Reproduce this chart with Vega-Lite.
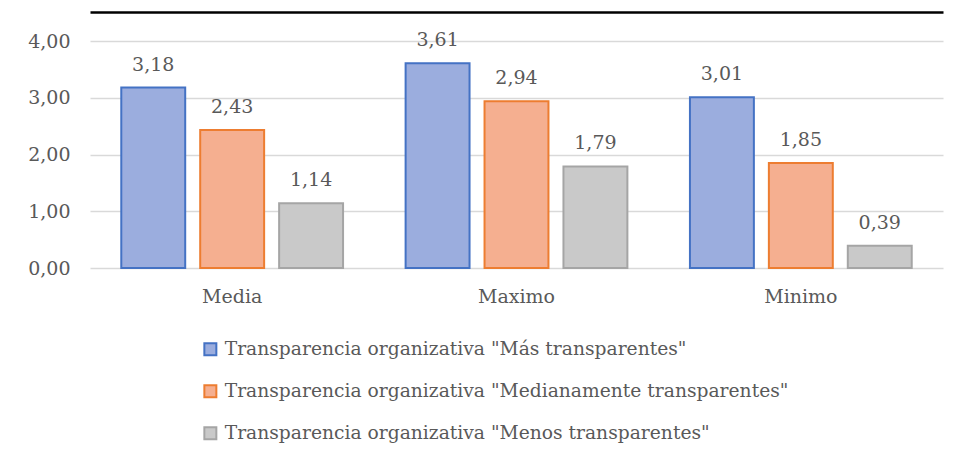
{
  "$schema": "https://vega.github.io/schema/vega-lite/v6.json",
  "autosize": "none",
  "width": 853,
  "height": 227,
  "padding": {"left": 90, "top": 41, "right": 16, "bottom": 191},
  "background": "white",
  "config": {
    "locale": {"number": {"decimal": ",", "thousands": ".", "grouping": [3], "currency": ["", " €"]}},
    "font": "DejaVu Serif",
    "view": {"stroke": null},
    "axis": {"labelFont": "DejaVu Serif", "labelColor": "#595959", "labelFontSize": 19},
    "legend": {"labelFont": "DejaVu Serif"}
  },
  "data": {
    "values": [
      {"cat": "Media", "serie": "Transparencia organizativa \"Más transparentes\"", "value": 3.18},
      {"cat": "Media", "serie": "Transparencia organizativa \"Medianamente transparentes\"", "value": 2.43},
      {"cat": "Media", "serie": "Transparencia organizativa \"Menos transparentes\"", "value": 1.14},
      {"cat": "Maximo", "serie": "Transparencia organizativa \"Más transparentes\"", "value": 3.61},
      {"cat": "Maximo", "serie": "Transparencia organizativa \"Medianamente transparentes\"", "value": 2.94},
      {"cat": "Maximo", "serie": "Transparencia organizativa \"Menos transparentes\"", "value": 1.79},
      {"cat": "Minimo", "serie": "Transparencia organizativa \"Más transparentes\"", "value": 3.01},
      {"cat": "Minimo", "serie": "Transparencia organizativa \"Medianamente transparentes\"", "value": 1.85},
      {"cat": "Minimo", "serie": "Transparencia organizativa \"Menos transparentes\"", "value": 0.39}
    ]
  },
  "layer": [
    {
      "encoding": {
        "x": {
          "field": "cat", "type": "nominal", "sort": ["Media", "Maximo", "Minimo"],
          "scale": {"paddingInner": 0.22, "paddingOuter": 0.11},
          "axis": {"title": null, "labelAngle": 0, "ticks": false, "domain": false, "labelPadding": 19, "labelFontSize": 19}
        },
        "xOffset": {
          "field": "serie", "type": "nominal",
          "sort": ["Transparencia organizativa \"Más transparentes\"", "Transparencia organizativa \"Medianamente transparentes\"", "Transparencia organizativa \"Menos transparentes\""],
          "scale": {"paddingInner": 0.19, "paddingOuter": 0}
        },
        "y": {
          "field": "value", "type": "quantitative",
          "scale": {"domain": [0, 4], "nice": false},
          "axis": {"title": null, "values": [0, 1, 2, 3, 4], "format": ".2f", "ticks": false, "domain": false, "grid": true, "gridColor": "#d9d9d9", "gridWidth": 1.5, "labelPadding": 20}
        }
      },
      "layer": [
        {
          "mark": {"type": "bar", "strokeWidth": 2},
          "encoding": {
            "fill": {
              "field": "serie", "type": "nominal",
              "sort": ["Transparencia organizativa \"Más transparentes\"", "Transparencia organizativa \"Medianamente transparentes\"", "Transparencia organizativa \"Menos transparentes\""],
              "scale": {"range": ["#9badde", "#f5af90", "#c9c9c9"]},
              "legend": {
                "title": null, "orient": "none", "legendX": 111, "legendY": 299, "direction": "vertical",
                "symbolType": "square", "symbolSize": 144, "symbolStrokeWidth": 2,
                "labelFontSize": 18.7, "labelColor": "#595959", "rowPadding": 21, "labelOffset": 5, "labelLimit": 800,
                "encode": {"symbols": {"update": {"stroke": {"scale": "stroke", "field": "value"}, "strokeWidth": {"value": 2}}}}
              }
            },
            "stroke": {
              "field": "serie", "type": "nominal",
              "sort": ["Transparencia organizativa \"Más transparentes\"", "Transparencia organizativa \"Medianamente transparentes\"", "Transparencia organizativa \"Menos transparentes\""],
              "scale": {"range": ["#4472c4", "#ed7d31", "#a5a5a5"]},
              "legend": null
            }
          }
        },
        {
          "mark": {"type": "text", "baseline": "bottom", "dy": -13, "fontSize": 19, "color": "#595959", "font": "DejaVu Serif"},
          "encoding": {"text": {"field": "value", "type": "quantitative", "format": ".2f"}}
        }
      ]
    },
    {
      "mark": {"type": "rule", "opacity": 0},
      "encoding": {
        "x": {"field": "cat", "type": "nominal", "sort": ["Media", "Maximo", "Minimo"], "axis": {"orient": "top", "title": null, "labels": false, "ticks": false, "domain": true, "domainColor": "#000000", "domainWidth": 2.5, "offset": 29}}
      }
    }
  ],
  "resolve": {"axis": {"x": "independent"}}
}
